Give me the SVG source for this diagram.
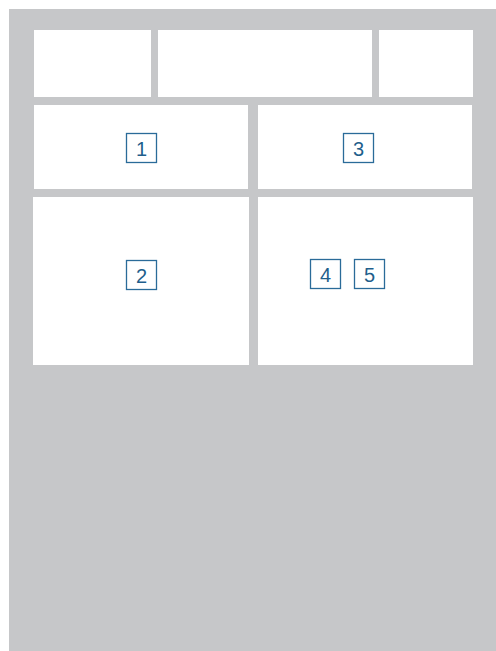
<svg xmlns="http://www.w3.org/2000/svg" width="496" height="651" viewBox="0 0 496 651">
<style>
.bg{fill:#c6c7c9}
.panel{fill:#ffffff}
.tag{fill:#ffffff;stroke:#2a6b99;stroke-width:1.3}
.num{font-family:"Liberation Sans",Arial,sans-serif;font-size:20px;fill:#1f5f8c;text-anchor:middle;dominant-baseline:central}
</style>
<rect class="bg" x="9" y="9" width="487" height="642"/>
<g id="top-left"><rect class="panel" x="34" y="30" width="117" height="67"/></g>
<g id="top-mid"><rect class="panel" x="158" y="30" width="214" height="67"/></g>
<g id="top-right"><rect class="panel" x="379" y="30" width="94" height="67"/></g>
<g id="panel-1"><rect class="panel" x="34" y="105" width="214" height="84"/>
<rect class="tag" x="126.5" y="133.5" width="30" height="29"/><text class="num" x="141.5" y="148.5">1</text></g>
<g id="panel-3"><rect class="panel" x="258" y="105" width="214" height="84"/>
<rect class="tag" x="343.5" y="133.5" width="30" height="29"/><text class="num" x="358.5" y="148.5">3</text></g>
<g id="panel-2"><rect class="panel" x="33" y="197" width="216" height="168"/>
<rect class="tag" x="126.5" y="260.5" width="30" height="29"/><text class="num" x="141.5" y="275.5">2</text></g>
<g id="panel-45"><rect class="panel" x="258" y="197" width="215" height="168"/>
<rect class="tag" x="310.5" y="259.5" width="30" height="29"/><text class="num" x="325.5" y="274.5">4</text>
<rect class="tag" x="354.5" y="259.5" width="30" height="29"/><text class="num" x="369.5" y="274.5">5</text></g>
<g id="connectors"/>
</svg>
